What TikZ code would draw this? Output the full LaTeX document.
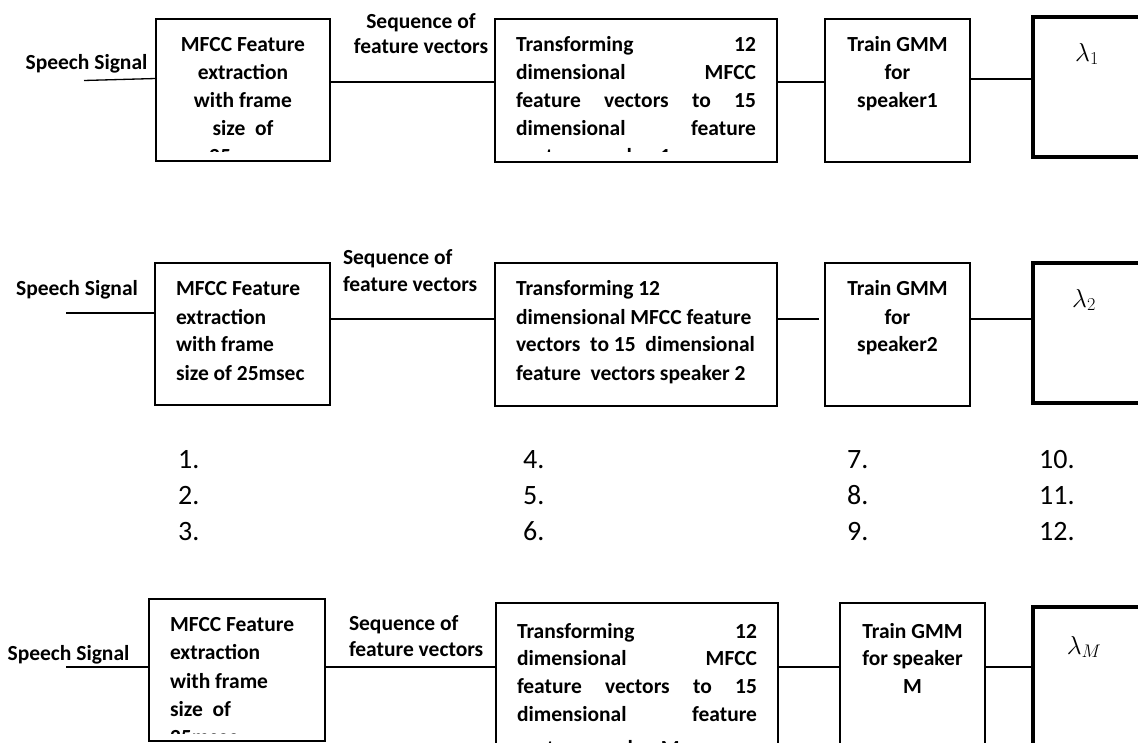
\RequirePackage{fix-cm}
\documentclass[tikz,border=0pt]{standalone}
\usepackage{fontspec}
\setmainfont{Carlito}
\newcommand\jline[1]{\hbox to 240pt{\spaceskip=.23em plus 1fill\relax #1}}
\begin{document}
\begin{tikzpicture}[x=1pt,y=-1pt,
  box/.style={draw, line width=2.2pt, inner sep=0pt, outer sep=0pt},
  lbox/.style={draw, line width=3.2pt, inner sep=0pt, outer sep=0pt},
  wire/.style={line width=1.3pt},
  tx/.style={font=\bfseries\fontsize{21.5}{28}\selectfont, inner sep=0pt, outer sep=0pt},
  tc/.style={tx, anchor=base},
  tl/.style={tx, anchor=base west},
  num/.style={font=\fontsize{28}{34}\selectfont, inner sep=0pt, anchor=base west},
  lam/.style={font=\fontsize{26}{30}\selectfont, inner sep=0pt}]
\clip (0,0) rectangle (1138,743);
\fill[white] (0,0) rectangle (1138,743);

% ---------- row 1 ----------
\node[box, minimum width=174pt, minimum height=142pt] (a1) at (243,90) {};
\node[box, minimum width=282pt, minimum height=143pt] (b1) at (636,90.5) {};
\node[box, minimum width=145pt, minimum height=143pt] (c1) at (897.5,90.5) {};
\node[lbox, minimum width=127pt, minimum height=140pt] (d1) at (1096.5,87) {};
\coordinate (s1) at (84,80.5);
\draw[wire] (s1) -- (a1.west |- 0,78.5);
\draw[wire] (a1.east |- 0,82) -- (b1.west |- 0,82);
\draw[wire] (b1.east |- 0,82) -- (c1.west |- 0,82);
\draw[wire] (c1.east |- 0,79) -- (d1.west |- 0,79);
\node[tc] (sp1) at (86.5,70) {Speech Signal};
\node[tc] (sq1a) at (421,29) {Sequence of};
\node[tc] (sq1b) at (421,54) {feature vectors};
\begin{scope}
\clip (a1.north west) rectangle (330,151.5);
\node[tc] (a1t1) at (243,51.5) {MFCC Feature};
\node[tc] (a1t2) at (243,79.5) {extraction};
\node[tc] (a1t3) at (243,107.5) {with frame};
\node[tc] (a1t4) at (243,135.5) {size\ \ of};
\node[tc] (a1t5) at (243,163.5) {25msec};
\end{scope}
\begin{scope}
\clip (b1.north west) rectangle (777,151.5);
\node[tl] (b1t1) at (516,52) {\jline{Transforming 12}};
\node[tl] (b1t2) at (516,80) {\jline{dimensional MFCC}};
\node[tl] (b1t3) at (516,108) {\jline{feature vectors to 15}};
\node[tl] (b1t4) at (516,135.5) {\jline{dimensional feature}};
\node[tl] (b1t5) at (516,163.5) {vectors speaker 1};
\end{scope}
\node[tc] (c1t1) at (897.5,52) {Train GMM};
\node[tc] (c1t2) at (897.5,80) {for};
\node[tc] (c1t3) at (897.5,108) {speaker1};
\node[lam] (l1) at (1087,54) {$\lambda_1$};

% ---------- row 2 ----------
\node[box, minimum width=175pt, minimum height=142pt] (a2) at (242.5,334) {};
\node[box, minimum width=282pt, minimum height=143pt] (b2) at (636,334.5) {};
\node[box, minimum width=145pt, minimum height=143pt] (c2) at (897.5,334.5) {};
\node[lbox, minimum width=127pt, minimum height=140pt] (d2) at (1096.5,333) {};
\coordinate (s2) at (66,313);
\draw[wire] (s2) -- (a2.west |- s2);
\draw[wire] (a2.east |- 0,319) -- (b2.west |- 0,319);
\draw[wire, shorten >=6pt] (b2.east |- 0,319) -- (c2.west |- 0,319);
\draw[wire] (c2.east |- 0,319) -- (d2.west |- 0,319);
\node[tc] (sp2) at (77,296) {Speech Signal};
\node[tl] (sq2a) at (343,265) {Sequence of};
\node[tl] (sq2b) at (343,292) {feature vectors};
\node[tl] (a2t1) at (176,296) {MFCC Feature};
\node[tl] (a2t2) at (176,324) {extraction};
\node[tl] (a2t3) at (176,352) {with frame};
\node[tl] (a2t4) at (176,380) {size of 25msec};
\node[tl] (b2t1) at (516,296) {Transforming 12};
\node[tl] (b2t2) at (516,324) {dimensional MFCC feature};
\node[tl] (b2t3) at (516,352) {vectors\ \ to 15\ \ dimensional};
\node[tl] (b2t4) at (516,380) {feature\ \ vectors speaker 2};
\node[tc] (c2t1) at (897.5,296) {Train GMM};
\node[tc] (c2t2) at (897.5,324) {for};
\node[tc] (c2t3) at (897.5,352) {speaker2};
\node[lam] (l2) at (1084,300) {$\lambda_2$};

% ---------- numbers ----------
\node[num] (n1) at (178,468) {1.};
\node[num] (n2) at (178,504) {2.};
\node[num] (n3) at (178,540) {3.};
\node[num] (n4) at (523,468) {4.};
\node[num] (n5) at (523,504) {5.};
\node[num] (n6) at (523,540) {6.};
\node[num] (n7) at (847,468) {7.};
\node[num] (n8) at (847,504) {8.};
\node[num] (n9) at (847,540) {9.};
\node[num] (n10) at (1039,468) {10.};
\node[num] (n11) at (1039,504) {11.};
\node[num] (n12) at (1039,540) {12.};

% ---------- row 3 ----------
\node[box, minimum width=176pt, minimum height=142pt] (a3) at (237,670) {};
\node[box, minimum width=282pt, minimum height=187pt] (b3) at (637,696.5) {};
\node[box, minimum width=145pt, minimum height=187pt] (c3) at (912.5,696.5) {};
\node[lbox, minimum width=127pt, minimum height=183pt] (d3) at (1096.5,698.5) {};
\coordinate (s3) at (66,667);
\draw[wire] (s3) -- (a3.west |- s3);
\draw[wire] (a3.east |- 0,667) -- (b3.west |- 0,667);
\draw[wire] (b3.east |- 0,667) -- (c3.west |- 0,667);
\draw[wire] (c3.east |- 0,667) -- (d3.west |- 0,667);
\node[tc] (sp3) at (68.5,660) {Speech Signal};
\node[tl] (sq3a) at (349,630) {Sequence of};
\node[tl] (sq3b) at (349,656) {feature vectors};
\begin{scope}
\clip (a3.north west) rectangle (325,733);
\node[tl] (a3t1) at (170,631) {MFCC Feature};
\node[tl] (a3t2) at (170,659.5) {extraction};
\node[tl] (a3t3) at (170,688) {with frame};
\node[tl] (a3t4) at (170,716) {size\ \ of};
\node[tl] (a3t5) at (170,744) {25msec};
\end{scope}
\node[tl] (b3t1) at (517,638) {\jline{Transforming 12}};
\node[tl] (b3t2) at (517,665.5) {\jline{dimensional MFCC}};
\node[tl] (b3t3) at (517,693) {\jline{feature vectors to 15}};
\node[tl] (b3t4) at (517,721) {\jline{dimensional feature}};
\node[tl] (b3t5) at (517,755) {vectors speaker M};
\node[tc] (c3t1) at (912.5,638) {Train GMM};
\node[tc] (c3t2) at (912.5,665.5) {for speaker};
\node[tc] (c3t3) at (912.5,693) {M};
\node[lam] (l3) at (1084,647) {$\lambda_M$};
\end{tikzpicture}
\end{document}
